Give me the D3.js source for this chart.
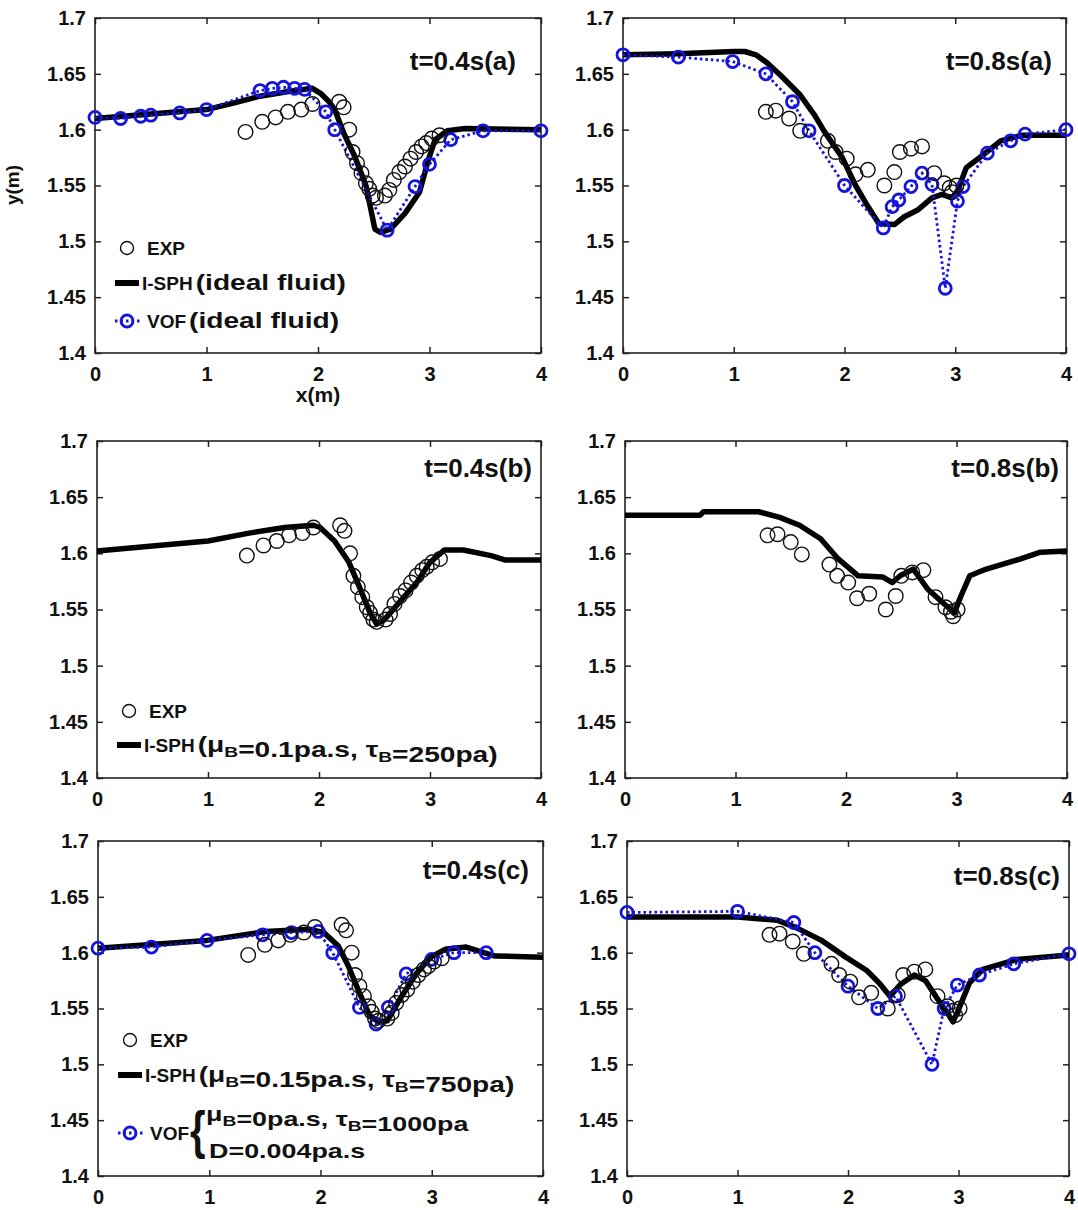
<!DOCTYPE html>
<html>
<head>
<meta charset="utf-8">
<script src="https://cdn.jsdelivr.net/npm/d3@7"></script>
<style>
body { margin: 0; background: #fff; }
svg text { font-family: "Liberation Sans", Arial, sans-serif; font-weight: bold; fill: #111; }
</style>
</head>
<body>
<svg id="chart" width="1078" height="1210"></svg>
<script>
// experiment, same in every row
let exp04 = [[1.35,1.598],[1.5,1.607],[1.62,1.611],[1.73,1.616],[1.85,1.618],[1.95,1.623],[2.19,1.625],[2.23,1.62],
  [2.28,1.6],[2.31,1.58],[2.35,1.57],[2.39,1.561],[2.43,1.552],[2.46,1.547],[2.49,1.541],[2.52,1.539],[2.6,1.541],
  [2.64,1.546],[2.68,1.555],[2.73,1.562],[2.78,1.567],[2.83,1.574],[2.88,1.58],[2.93,1.585],[2.97,1.588],[3.02,1.592],[3.09,1.595]]
let exp08 = [[1.29,1.616],[1.38,1.617],[1.5,1.61],[1.6,1.599],[1.85,1.59],[1.92,1.58],[2.02,1.574],[2.1,1.56],
  [2.21,1.564],[2.36,1.55],[2.45,1.562],[2.5,1.58],[2.6,1.583],[2.7,1.585],[2.81,1.561],[2.9,1.552],[2.95,1.548],
  [2.97,1.544],[3.01,1.55]]

// I-SPH
let isph04a = [[0,1.61],[0.5,1.614],[1,1.618],[1.25,1.624],[1.48,1.63],[1.72,1.634],[1.95,1.637],[2.03,1.632],[2.1,1.625],
  [2.15,1.618],[2.23,1.597],[2.33,1.576],[2.43,1.55],[2.51,1.511],[2.56,1.508],[2.65,1.511],[2.78,1.525],[2.91,1.544],
  [2.99,1.573],[3.05,1.591],[3.16,1.599],[3.32,1.601],[4,1.6]]
let isph08a = [[0,1.667],[0.5,1.668],[1,1.67],[1.1,1.67],[1.2,1.667],[1.3,1.66],[1.42,1.649],[1.6,1.631],[1.73,1.613],
  [1.82,1.598],[1.98,1.575],[2.1,1.55],[2.2,1.533],[2.31,1.516],[2.45,1.515],[2.54,1.522],[2.66,1.528],[2.79,1.539],
  [2.88,1.542],[2.97,1.539],[3.02,1.545],[3.1,1.566],[3.26,1.578],[3.41,1.59],[3.6,1.595],[4,1.595]]
let isph04b = [[0,1.602],[1,1.611],[1.37,1.618],[1.69,1.623],[1.95,1.625],[2.01,1.623],[2.14,1.611],[2.27,1.592],[2.36,1.571],
  [2.46,1.547],[2.52,1.537],[2.59,1.541],[2.72,1.556],[2.88,1.574],[3,1.592],[3.13,1.603],[3.3,1.603],[3.55,1.598],
  [3.68,1.594],[4,1.594]]
let isph08b = [[0,1.634],[0.68,1.634],[0.71,1.637],[1.21,1.637],[1.4,1.632],[1.58,1.625],[1.77,1.613],[1.93,1.595],[2.11,1.58],
  [2.33,1.579],[2.42,1.574],[2.49,1.58],[2.61,1.586],[2.74,1.568],[2.9,1.554],[2.98,1.547],[3.04,1.562],[3.12,1.58],
  [3.27,1.586],[3.58,1.595],[3.76,1.601],[4,1.602]]
let isph04c = [[0,1.604],[0.98,1.611],[1.51,1.619],[1.9,1.621],[2.03,1.618],[2.16,1.606],[2.25,1.588],[2.35,1.564],[2.44,1.544],
  [2.52,1.538],[2.6,1.539],[2.73,1.561],[2.86,1.581],[2.99,1.596],[3.12,1.603],[3.31,1.605],[3.57,1.597],[4,1.596]]
let isph08c = [[0,1.632],[1,1.632],[1.36,1.629],[1.54,1.622],[1.76,1.611],[1.98,1.596],[2.17,1.584],[2.29,1.572],[2.38,1.561],
  [2.48,1.572],[2.6,1.58],[2.7,1.575],[2.8,1.56],[2.9,1.546],[2.95,1.538],[3,1.549],[3.1,1.573],[3.22,1.585],[3.53,1.594],[4,1.598]]

// VOF
let vof04a = [[0,1.611],[0.23,1.61],[0.41,1.612],[0.5,1.613],[0.76,1.615],[1,1.618],[1.48,1.635],[1.59,1.637],[1.69,1.638],
  [1.79,1.637],[1.88,1.636],[2.07,1.616],[2.15,1.6],[2.62,1.51],[2.87,1.549],[3,1.569],[3.19,1.591],[3.48,1.599],[4,1.599]]
let vof08a = [[0,1.667],[0.5,1.665],[0.99,1.661],[1.29,1.65],[1.53,1.625],[1.68,1.599],[2,1.55],[2.35,1.512],[2.43,1.531],
  [2.49,1.537],[2.6,1.549],[2.7,1.561],[2.79,1.551],[2.91,1.458],[3.02,1.536],[3.07,1.549],[3.29,1.579],[3.5,1.59],[3.63,1.596],[4,1.6]]
let vof04c = [[0,1.604],[0.48,1.605],[0.98,1.611],[1.48,1.616],[1.74,1.618],[1.98,1.619],[2.11,1.6],[2.35,1.551],[2.5,1.536],
  [2.61,1.551],[2.77,1.581],[3,1.594],[3.2,1.6],[3.49,1.6]]
let vof08c = [[0,1.636],[1,1.637],[1.51,1.627],[1.7,1.6],[2,1.57],[2.27,1.55],[2.43,1.561],[2.76,1.5],[2.87,1.55],[2.99,1.571],
  [3.19,1.58],[3.5,1.59],[4,1.599]]

let xTicks = [0,1,2,3,4]
let yTicks = [1.4,1.45,1.5,1.55,1.6,1.65,1.7]
let titles = ['t=0.4s(a)','t=0.8s(a)','t=0.4s(b)','t=0.8s(b)','t=0.4s(c)','t=0.8s(c)']

// legend labels, '_' marks a subscript
let legIsph = {
  a: ['(ideal fluid)'],
  b: ['(\u03bc','_B','=0.1pa.s, \u03c4','_B','=250pa)'],
  c: ['(\u03bc','_B','=0.15pa.s, \u03c4','_B','=750pa)']
}
let legVof = {
  a: ['(ideal fluid)'],
  c: [['\u03bc','_B','=0pa.s, \u03c4','_B','=1000pa'], ['D=0.004pa.s']]
}

let blue = '#1414dc'
let svg = d3.select('#chart')

// panel boxes [left, right, top, bottom] and title anchor [right inset, baseline]
let panels = [
  {box:[95,541,18,353], t:[25,52], title:titles[0], isph:isph04a, vof:vof04a, exp:exp04, legend:'a'},
  {box:[623,1066,18,353], t:[14,52], title:titles[1], isph:isph08a, vof:vof08a, exp:exp08},
  {box:[97,541,441,778], t:[9,36], title:titles[2], isph:isph04b, exp:exp04, legend:'b'},
  {box:[625,1067,441,778], t:[8,36], title:titles[3], isph:isph08b, exp:exp08},
  {box:[98,543,841,1176], t:[14,38], title:titles[4], isph:isph04c, vof:vof04c, exp:exp04, legend:'c'},
  {box:[627,1069,841,1176], t:[9,44], title:titles[5], isph:isph08c, vof:vof08c, exp:exp08}
]

let drawPanel = (p) => {
  let [x0,x1,y0,y1] = p.box
  let x = d3.scaleLinear().domain([0,4]).range([x0,x1])
  let y = d3.scaleLinear().domain([1.4,1.7]).range([y1,y0])
  let g = svg.append('g')

  let fmt = d => String(+d.toFixed(2))
  let ax = [
    [d3.axisBottom(x).tickValues(xTicks).tickFormat(d3.format('d')).tickPadding(14), 'translate(0,'+y1+')'],
    [d3.axisTop(x).tickValues(xTicks).tickFormat(''), 'translate(0,'+y0+')'],
    [d3.axisLeft(y).tickValues(yTicks).tickFormat(fmt).tickPadding(9), 'translate('+x0+',0)'],
    [d3.axisRight(y).tickValues(yTicks).tickFormat(''), 'translate('+x1+',0)']
  ]
  ax.forEach(a => {
    let s = g.append('g').attr('transform', a[1])
      .call(a[0].tickSizeInner(-6).tickSizeOuter(0))
    s.select('.domain').remove()
    s.selectAll('line').attr('stroke','#222').attr('stroke-width',1.5)
    s.selectAll('text').attr('font-size',20).attr('font-family','"Liberation Sans", Arial, sans-serif')
      .attr('font-weight','bold').attr('fill','#111')
  })

  g.append('rect').attr('x',x0).attr('y',y0).attr('width',x1-x0).attr('height',y1-y0)
    .attr('fill','none').attr('stroke','#222').attr('stroke-width',1.6)

  let line = d3.line().x(d => x(d[0])).y(d => y(d[1]))

  g.append('path').datum(p.isph).attr('d',line).attr('fill','none')
    .attr('stroke','#000').attr('stroke-width',5.5).attr('stroke-linejoin','round')

  if (p.vof) {
    g.append('path').datum(p.vof).attr('d',line).attr('fill','none')
      .attr('stroke',blue).attr('stroke-width',2.8).attr('stroke-dasharray','2.5,3')
    g.selectAll('.vof').data(p.vof).enter().append('circle').attr('class','vof')
      .attr('cx',d => x(d[0])).attr('cy',d => y(d[1])).attr('r',6)
      .attr('fill','none').attr('stroke',blue).attr('stroke-width',2.8)
  }

  g.selectAll('.exp').data(p.exp).enter().append('circle').attr('class','exp')
    .attr('cx',d => x(d[0])).attr('cy',d => y(d[1])).attr('r',7.3)
    .attr('fill','none').attr('stroke','#111').attr('stroke-width',1.4)

  g.append('text').attr('transform','translate('+(x1-p.t[0])+','+(y0+p.t[1])+')')
    .attr('text-anchor','end').attr('font-size',26).text(p.title)

  if (p.legend) drawLegend(g, p)
}

// stretched text with subscripts
let wideText = (g, tx, ty, parts, size) => {
  let t = g.append('g').attr('transform','translate('+tx+','+ty+') scale(1.28,1)')
    .append('text').attr('font-size',size || 22)
  parts.forEach(s => {
    if (s[0] === '_') {
      t.append('tspan').attr('font-size',15).attr('dy',5).text(s.slice(1))
      t.append('tspan').attr('dy',-5).text('')
    } else {
      t.append('tspan').text(s)
    }
  })
}

// lead word, returns where it ends
let leadText = (g, tx, ty, s) => {
  let t = g.append('text').attr('x',tx).attr('y',ty).attr('font-size',19).text(s)
  return tx + t.node().getComputedTextLength()
}

let drawLegend = (g, p) => {
  let [x0,,y0] = p.box
  let mx = x0 + 32
  let rows = {a: [230, 265, 303], b: [270, 304], c: [199, 234, 292]}[p.legend]

  // EXP
  g.append('circle').attr('cx',mx).attr('cy',y0+rows[0]).attr('r',6.5)
    .attr('fill','none').attr('stroke','#111').attr('stroke-width',1.4)
  leadText(g, mx+20, y0+rows[0]+7, 'EXP')

  // I-SPH
  let iy = y0 + rows[1]
  g.append('line').attr('x1',mx-12).attr('x2',mx+12).attr('y1',iy).attr('y2',iy)
    .attr('stroke','#000').attr('stroke-width',6)
  let e = leadText(g, mx+15, iy+7, 'I-SPH')
  wideText(g, e+3, iy+7, legIsph[p.legend])

  if (!rows[2]) return
  // VOF
  let vy = y0 + rows[2]
  g.append('line').attr('x1',mx-12).attr('x2',mx+14).attr('y1',vy).attr('y2',vy)
    .attr('stroke',blue).attr('stroke-width',2.8).attr('stroke-dasharray','2.5,3')
  g.append('circle').attr('cx',mx).attr('cy',vy).attr('r',6)
    .attr('fill','none').attr('stroke',blue).attr('stroke-width',2.8)
  e = leadText(g, mx+20, vy+7, 'VOF')
  let v = legVof[p.legend]
  if (typeof v[0] === 'string') {
    wideText(g, e+3, vy+7, v)
  } else {
    g.append('g').attr('transform','translate('+(e+1)+','+(vy+15)+') scale(0.8,1.05)')
      .append('text').attr('font-size',50).attr('font-weight','normal').text('{')
    wideText(g, e+17, vy-12, v[0], 21)
    wideText(g, e+20, vy+25, v[1], 21)
  }
}

panels.forEach(drawPanel)

// axis names, only on the first panel
svg.append('text').attr('x',318).attr('y',402).attr('text-anchor','middle').attr('font-size',21).text('x(m)')
svg.append('text').attr('transform','translate(19,185) rotate(-90)').attr('text-anchor','middle')
  .attr('font-size',19).text('y(m)')
</script>
</body>
</html>
